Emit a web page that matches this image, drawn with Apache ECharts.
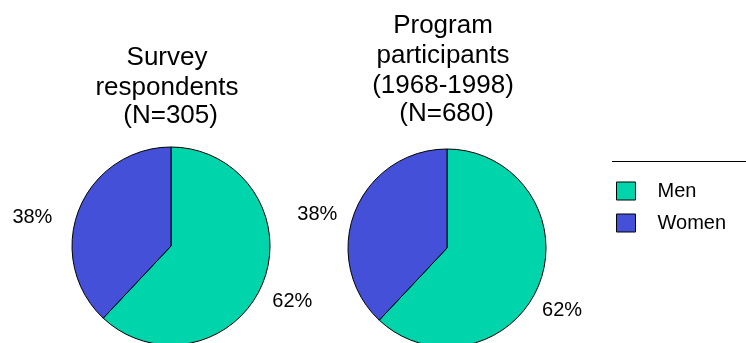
<!DOCTYPE html>
<html>
<head>
<meta charset="utf-8">
<title>Men and women</title>
<script src="https://cdn.jsdelivr.net/npm/echarts@6/dist/echarts.min.js"></script>
</head>
<body style="margin:0">
<div id="main" style="width:746px;height:343px;"></div>
<script>
var groups = ['Men', 'Women'];
var surveyValues = [62, 38];
var programValues = [62, 38];
var surveyTitle = ['Survey', 'respondents', ' (N=305)'];
var programTitle = ['Program', 'participants', '(1968-1998)', ' (N=680)'];
var colors = ['#00d4aa', '#4350d7'];
var font = 'Liberation Sans, Arial, sans-serif';

var chart = echarts.init(document.getElementById('main'));

// labels sit off the usual radial spot, so each slice gets its own line lengths
function pieData(values, lines) {
    return groups.map(function (g, i) {
        return { name: g, value: values[i], labelLine: { length: lines[i][0], length2: lines[i][1] } };
    });
}

function titleText(lines) {
    return lines.map(function (s, i) {
        return (i === lines.length - 1 ? '{b|' : '{a|') + s + '}';
    }).join('\n');
}

var rich = {
    a: { fontSize: 26, lineHeight: 30, fontFamily: font, fontWeight: 'normal', color: '#000' },
    b: { fontSize: 26, lineHeight: 25, fontFamily: font, fontWeight: 'normal', color: '#000' }
};

var pieBase = {
    type: 'pie',
    radius: 99,
    startAngle: 90,
    clockwise: true,
    avoidLabelOverlap: false,
    silent: true,
    itemStyle: { borderColor: '#000', borderWidth: 1 },
    label: { show: true, position: 'outside', formatter: '{c}%', fontSize: 20, color: '#000', fontFamily: font },
    labelLine: { show: false },
    emphasis: { disabled: true }
};

var option = {
    color: colors,
    animation: false,
    title: [
        { text: titleText(surveyTitle), left: 167, top: 43, textAlign: 'center', padding: 0, textStyle: { rich: rich } },
        { text: titleText(programTitle), left: 443, top: 11, textAlign: 'center', padding: 0, textStyle: { rich: rich } }
    ],
    legend: {
        orient: 'vertical',
        left: 616,
        top: 181,
        padding: 0,
        itemWidth: 19,
        itemHeight: 18,
        itemGap: 12,
        icon: 'rect',
        selectedMode: false,
        data: groups,
        itemStyle: { borderColor: '#000', borderWidth: 1 },
        textStyle: { fontSize: 20, color: '#000', fontFamily: font, padding: [0, 0, 0, 17] }
    },
    graphic: [
        { type: 'line', shape: { x1: 612, y1: 161.5, x2: 746, y2: 161.5 }, style: { stroke: '#000', lineWidth: 1 } }
    ],
    series: [
        Object.assign({}, pieBase, { center: [171, 246], data: pieData(surveyValues, [[53, -45], [-22, 42]]) }),
        Object.assign({}, pieBase, { center: [447, 248], data: pieData(programValues, [[71, -68], [-8, 20]]) })
    ]
};

chart.setOption(option);
</script>
</body>
</html>
